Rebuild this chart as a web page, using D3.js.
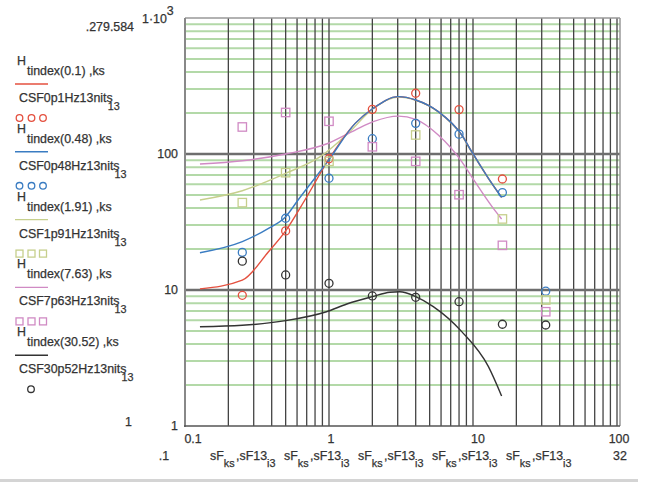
<!DOCTYPE html>
<html>
<head>
<meta charset="utf-8">
<script src="https://cdn.jsdelivr.net/npm/d3@7"></script>
<style>
  body { margin: 0; background: #fff; }
  svg text { font-family: "Liberation Sans", Arial, sans-serif; font-size: 12.4px; fill: #333; stroke: #333; stroke-width: 0.25px; }
  svg .sub { font-size: 10.8px; }
</style>
</head>
<body>
<div id="chart"></div>
<script>
// measured points (spatial frequency, sensitivity)
const measFreq = [0.25, 0.5, 1, 2, 4, 8, 16, 32];
const csf0p1 = [9.14, 27.2, 92.3, 213, 279.584, 212, 65.5, null];
const csf0p48 = [18.9, 33.7, 66.3, 129.6, 168, 140, 52, 9.8];
const csf1p91 = [43.9, 72.9, 88.3, null, 138, null, 33.3, 8.44];
const csf7p63 = [158, 202, 174, 113, 88.3, 50.2, 21.3, 6.92];
const csf30p52 = [16.3, 12.9, 11.2, 9.04, 8.84, 8.2, 5.6, 5.53];

// model curves H_tindex(...)
const h0p1Freq = [0.127, 0.25, 0.38, 0.5, 0.68, 1, 1.52, 2.03, 3.03, 4.0, 5.74, 8.35, 9.8, 12.8, 15.8];
const h0p1 = [10.2, 11.8, 19.1, 27.2, 45.9, 92, 168, 217, 264, 249.5, 205, 138, 104, 66.3, 48];
const h0p48Freq = [0.127, 0.25, 0.38, 0.5, 0.61, 1, 1.52, 2.03, 3.03, 4.0, 5.74, 8.35, 9.8, 12.8, 15.8];
const h0p48 = [18.8, 22.7, 28.4, 34.6, 45.9, 91, 168, 217, 264, 249.5, 205, 138, 104, 66.3, 48];
const h1p91Freq = [0.127, 0.25, 0.5, 0.87, 1.36, 2.03, 3.03, 4.0, 5.74, 8.35, 9.8, 12.8, 15.8];
const h1p91 = [45.9, 53.7, 72.1, 95.6, 142, 216, 262, 248, 204, 137, 103, 66, 48];
const h7p63Freq = [0.127, 0.25, 0.5, 0.99, 1.52, 2.03, 3.03, 4.0, 5.74, 8.35, 9.8, 13.8, 15.8];
const h7p63 = [84.4, 89.3, 100, 120, 150, 173, 190, 180, 138, 88, 68, 40, 33.3];
const h30p52Freq = [0.127, 0.25, 0.5, 0.96, 1.33, 2.0, 2.65, 3.1, 4.0, 5.3, 8.35, 12.8, 15.8];
const h30p52 = [5.37, 5.5, 5.95, 6.92, 7.89, 8.93, 9.62, 9.7, 8.93, 7.54, 4.94, 2.73, 1.66];

const legendSubs = ['tindex(0.1) ,ks', 'tindex(0.48) ,ks', 'tindex(1.91) ,ks', 'tindex(7.63) ,ks', 'tindex(30.52) ,ks'];
const legendNames = ['CSF0p1Hz13nits', 'CSF0p48Hz13nits', 'CSF1p91Hz13nits', 'CSF7p63Hz13nits', 'CSF30p52Hz13nits'];
const colors = ['#e4503f', '#3a7cc2', '#c6cf8c', '#d08ac4', '#333333'];
const markerShapes = ['circle', 'circle', 'square', 'square', 'circle'];

const xTicks = [0.1, 1, 10, 100];
const xTickLabels = ['0.1', '1', '10', '100'];
const yTicks = [1, 10, 100];
const yTickLabels = ['1', '10', '100'];

class CsfChart {
  constructor() {
    this.svg = d3.select('#chart').append('svg').attr('width', 645).attr('height', 485);
    this.xScale = d3.scaleLog().domain([0.1, 100]).range([185, 617]);
    this.yScale = d3.scaleLog().domain([1, 1000]).range([426, 18]);
    this.drawGrid();
    this.drawAxisText();
    this.drawSeries();
    this.drawLegend();
  }

  drawGrid() {
    const x = this.xScale, y = this.yScale, svg = this.svg;
    const minor = [];
    [1, 10, 100].forEach(d => { for (let k = 2; k <= 9; k++) minor.push(d * k); });
    svg.append('g').selectAll('line').data(minor).join('line')
      .attr('x1', 185).attr('x2', 620)
      .attr('y1', d => y(d)).attr('y2', d => y(d))
      .attr('stroke', '#b3d9a8').attr('stroke-width', 2);

    const vert = [];
    [0.1, 1, 10].forEach(d => { for (let k = 1; k <= 10; k++) vert.push(d * k); });
    svg.append('g').selectAll('line').data(Array.from(new Set(vert.map(v => +v.toPrecision(3))))).join('line')
      .attr('x1', d => x(d)).attr('x2', d => x(d))
      .attr('y1', 18).attr('y2', 426)
      .attr('stroke', '#444').attr('stroke-width', 1.3);

    svg.append('g').selectAll('line').data([10, 100]).join('line')
      .attr('x1', 185).attr('x2', 620)
      .attr('y1', d => y(d)).attr('y2', d => y(d))
      .attr('stroke', '#6e6e6e').attr('stroke-width', 2.4);

    // frame
    svg.append('line').attr('x1', 185).attr('x2', 620).attr('y1', 18).attr('y2', 18).attr('stroke', '#999').attr('stroke-width', 1.5);
    svg.append('line').attr('x1', 620).attr('x2', 620).attr('y1', 18).attr('y2', 426).attr('stroke', '#999').attr('stroke-width', 1.5);
    svg.append('line').attr('x1', 185).attr('x2', 185).attr('y1', 18).attr('y2', 427).attr('stroke', '#888').attr('stroke-width', 2);
    svg.append('line').attr('x1', 184).attr('x2', 620).attr('y1', 426).attr('y2', 426).attr('stroke', '#555').attr('stroke-width', 1.5);

    // region border at the bottom
    svg.append('rect').attr('x', 0).attr('y', 479).attr('width', 638).attr('height', 3).attr('fill', '#d4d4d4');
  }

  drawAxisText() {
    const x = this.xScale, y = this.yScale, svg = this.svg;
    svg.append('g').selectAll('text').data(yTicks).join('text')
      .attr('x', 178).attr('y', d => y(d) + 4)
      .attr('text-anchor', 'end')
      .text((d, i) => yTickLabels[i]);
    const top = svg.append('text').attr('x', 142).attr('y', 23);
    top.append('tspan').text('1\u00b710');
    top.append('tspan').attr('dy', -8).text('3');
    svg.append('text').attr('x', 134).attr('y', 31).attr('text-anchor', 'end').text('.279.584');
    svg.append('text').attr('x', 132).attr('y', 426).attr('text-anchor', 'end').text('1');

    const xOff = [8, 2, 5, 2];
    svg.append('g').selectAll('text').data(xTicks).join('text')
      .attr('x', (d, i) => x(d) + xOff[i]).attr('y', 443)
      .attr('text-anchor', 'middle')
      .text((d, i) => xTickLabels[i]);
    svg.append('text').attr('x', 164).attr('y', 460).attr('text-anchor', 'middle').text('.1');
    svg.append('text').attr('x', 620).attr('y', 460).attr('text-anchor', 'middle').text('32');

    // x axis expression labels
    for (let i = 0; i < 5; i++) {
      const gx = 210 + i * 74;
      const t = svg.append('text').attr('x', gx).attr('y', 460);
      t.append('tspan').text('sF');
      t.append('tspan').attr('class', 'sub').attr('dy', 7).text('ks');
      t.append('tspan').attr('dy', -7).attr('dx', 1.5).text(',sF13');
      t.append('tspan').attr('class', 'sub').attr('dy', 7).text('i3');
    }
  }

  drawSeries() {
    const x = this.xScale, y = this.yScale, svg = this.svg;
    const line = d3.line().x(d => x(d[0])).y(d => y(d[1])).curve(d3.curveMonotoneX);
    const curves = [[h0p1Freq, h0p1], [h0p48Freq, h0p48], [h1p91Freq, h1p91], [h7p63Freq, h7p63], [h30p52Freq, h30p52]];
    const drawOrder = [2, 3, 4, 0, 1];
    drawOrder.forEach(i => {
      const [fx, fy] = curves[i];
      svg.append('path').datum(fx.map((f, j) => [f, fy[j]]))
        .attr('d', line).attr('fill', 'none')
        .attr('stroke', colors[i]).attr('stroke-width', 1.4);
    });

    const measured = [csf0p1, csf0p48, csf1p91, csf7p63, csf30p52];
    measured.forEach((vals, i) => {
      const pts = measFreq.map((f, j) => [f, vals[j]]).filter(p => p[1] != null);
      this.drawMarkers(pts.map(p => [x(p[0]), y(p[1])]), i, 4, 8.4);
    });
  }

  drawMarkers(pixels, i, r, side) {
    const g = this.svg.append('g').attr('fill', 'none').attr('stroke', colors[i]).attr('stroke-width', 1.3);
    if (markerShapes[i] === 'circle') {
      g.selectAll('circle').data(pixels).join('circle')
        .attr('cx', d => d[0]).attr('cy', d => d[1]).attr('r', r);
    } else {
      g.selectAll('rect').data(pixels).join('rect')
        .attr('x', d => d[0] - side / 2).attr('y', d => d[1] - side / 2)
        .attr('width', side).attr('height', side);
    }
  }

  drawLegend() {
    const svg = this.svg;
    legendNames.forEach((name, i) => {
      const off = i * 67.8;
      svg.append('text').attr('x', 17).attr('y', 65 + off).text('H');
      svg.append('text').attr('x', 27).attr('y', 75 + off).text(legendSubs[i]);
      svg.append('line').attr('x1', 15).attr('x2', 48)
        .attr('y1', 84 + off).attr('y2', 84 + off)
        .attr('stroke', colors[i]).attr('stroke-width', 1.4);
      const t = svg.append('text').attr('x', 19).attr('y', 102 + off).text(name);
      const w = t.node().getComputedTextLength();
      svg.append('text').attr('class', 'sub').attr('x', 19 + w - 5).attr('y', 110 + off).text('13');
      const xs = i === 4 ? [31] : [19.5, 31.5, 43];
      this.drawMarkers(xs.map(px => [px, 118 + off]), i, 3.3, 7);
    });
  }
}

new CsfChart();
</script>
</body>
</html>
